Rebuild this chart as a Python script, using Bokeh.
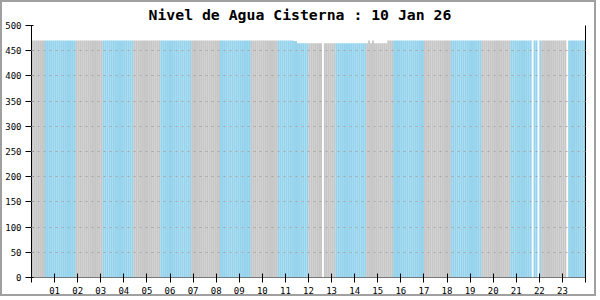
import numpy as np
from bokeh.plotting import figure
from bokeh.models import ColumnDataSource, FixedTicker, LinearAxis, Range1d, Title
from bokeh.embed import file_html
from bokeh.resources import INLINE

chart_title = "Nivel de Agua Cisterna : 10 Jan 26"
sample_minutes = 5
hour_ticks = list(range(0, 25))
hour_labels = ["", "01", "02", "03", "04", "05", "06", "07", "08", "09", "10", "11", "12",
               "13", "14", "15", "16", "17", "18", "19", "20", "21", "22", "23", ""]
y_ticks = [0, 50, 100, 150, 200, 250, 300, 350, 400, 450, 500]

N = None
# one row per hour, 12 samples (5 min) each
level = [
    470, 470, 470, 470, 470, 470, 470, 470, 470, 470, 470, 470,  # 00
    470, 470, 470, 470, 470, 470, 470, 470, 470, 470, 470, 470,  # 01
    470, 470, 470, 470, 470, 470, 470, 470, 470, 470, 470, 470,  # 02
    470, 470, 470, 470, 470, 470, 470, 470, 470, 470, 470, 470,  # 03
    470, 470, 470, 470, 470, 470, 470, 470, 470, 470, 470, 470,  # 04
    470, 470, 470, 470, 470, 470, 470, 470, 470, 470, 470, 470,  # 05
    470, 470, 470, 470, 470, 470, 470, 470, 470, 470, 470, 470,  # 06
    470, 470, 470, 470, 470, 470, 470, 470, 470, 470, 470, 470,  # 07
    470, 470, 470, 470, 470, 470, 470, 470, 470, 470, 470, 470,  # 08
    470, 470, 470, 470, 470, 470, 470, 470, 470, 470, 470, 470,  # 09
    470, 470, 470, 470, 470, 470, 470, 470, 470, 470, 470, 470,  # 10
    470, 470, 470, 470, 469, 469, 465, 465, 465, 465, 465, 465,  # 11
    465, 465, 465, 465, 465, 465, 465, N,   465, 465, 465, 465,  # 12
    465, 465, 465, 465, 465, 465, 465, 465, 465, 465, 465, 465,  # 13
    465, 465, 465, 465, 465, 465, 465, 470, 465, 470, 465, 465,  # 14
    465, 465, 465, 465, 465, 470, 470, 470, 470, 470, 470, 470,  # 15
    470, 470, 470, 470, 470, 470, 470, 470, 470, 470, 470, 470,  # 16
    470, 470, 470, 470, 470, 470, 470, 470, 470, 470, 470, 470,  # 17
    470, 470, 470, 470, 470, 470, 470, 470, 470, 470, 470, 470,  # 18
    470, 470, 470, 470, 470, 470, 470, 470, 470, 470, 470, 470,  # 19
    470, 470, 470, 470, 470, 470, 470, 470, 470, 470, 470, 470,  # 20
    470, 470, 470, 470, 470, 470, 470, 470, N,   470, 470, N,    # 21
    470, 470, 470, 470, 470, 470, 470, 470, 470, 470, 470, 470,  # 22
    470, 470, N,   470, 470, 470, 470, 470, 470, 470, 470, 470,  # 23
]

vals = np.array([np.nan if v is None else v for v in level], dtype=float)
n = len(vals)
idx = np.arange(n)
step_h = sample_minutes / 60.0
t = idx * step_h + step_h / 2
# alternating cyan / grey bands as seen in the rendered original
phase = (idx - 6.5) % 30.2
colors = np.where(phase < 16, "#95d3ed", "#c6c6c6")

src = ColumnDataSource(dict(t=t, level=vals, color=colors))

p = figure(width=596, height=296, x_range=Range1d(0, 24), y_range=Range1d(0, 500),
           output_backend="svg", toolbar_location=None,
           min_border_left=29, min_border_right=13, min_border_top=23, min_border_bottom=21)
p.styles = {"border": "2px solid #a0a0a0"}
p.outline_line_color = None
p.background_fill_color = "white"
p.border_fill_color = "white"

p.title = Title(text=chart_title, align="left", offset=117, vertical_align="top",
                text_font="DejaVu Sans Mono", text_font_size="14.8px",
                text_font_style="bold", standoff=2, text_color="black")

p.vbar(x="t", top="level", bottom=0, width=step_h, source=src,
       fill_color="color", line_color=None)

p.xgrid.grid_line_color = None
p.ygrid.ticker = FixedTicker(ticks=y_ticks)
p.ygrid.grid_line_color = "#a8a8a8"
p.ygrid.grid_line_dash = "2 4"
p.ygrid.level = "overlay"

xa = p.xaxis[0]
xa.ticker = FixedTicker(ticks=hour_ticks)
xa.major_label_overrides = {h: lab for h, lab in zip(hour_ticks, hour_labels)}
xa.axis_line_dash = "1 1"
xa.axis_line_color = "black"
xa.major_tick_in = 4
xa.major_tick_out = 5
xa.minor_tick_line_color = None
xa.major_label_standoff = 4
xa.major_label_text_font = "DejaVu Sans Mono"
xa.major_label_text_font_size = "9px"
xa.major_label_text_color = "black"

ya = p.yaxis[0]
ya.ticker = FixedTicker(ticks=y_ticks)
ya.major_tick_in = 2
ya.major_tick_out = 6
ya.minor_tick_line_color = None
ya.major_label_standoff = 4
ya.major_label_text_font = "DejaVu Sans Mono"
ya.major_label_text_font_size = "9px"
ya.major_label_text_color = "black"
ya.axis_line_color = "black"

ra = LinearAxis(ticker=FixedTicker(ticks=[]), major_tick_line_color=None,
                minor_tick_line_color=None, major_label_text_font_size="0px")
p.add_layout(ra, "right")

open("out.html", "w").write(file_html(p, INLINE))
